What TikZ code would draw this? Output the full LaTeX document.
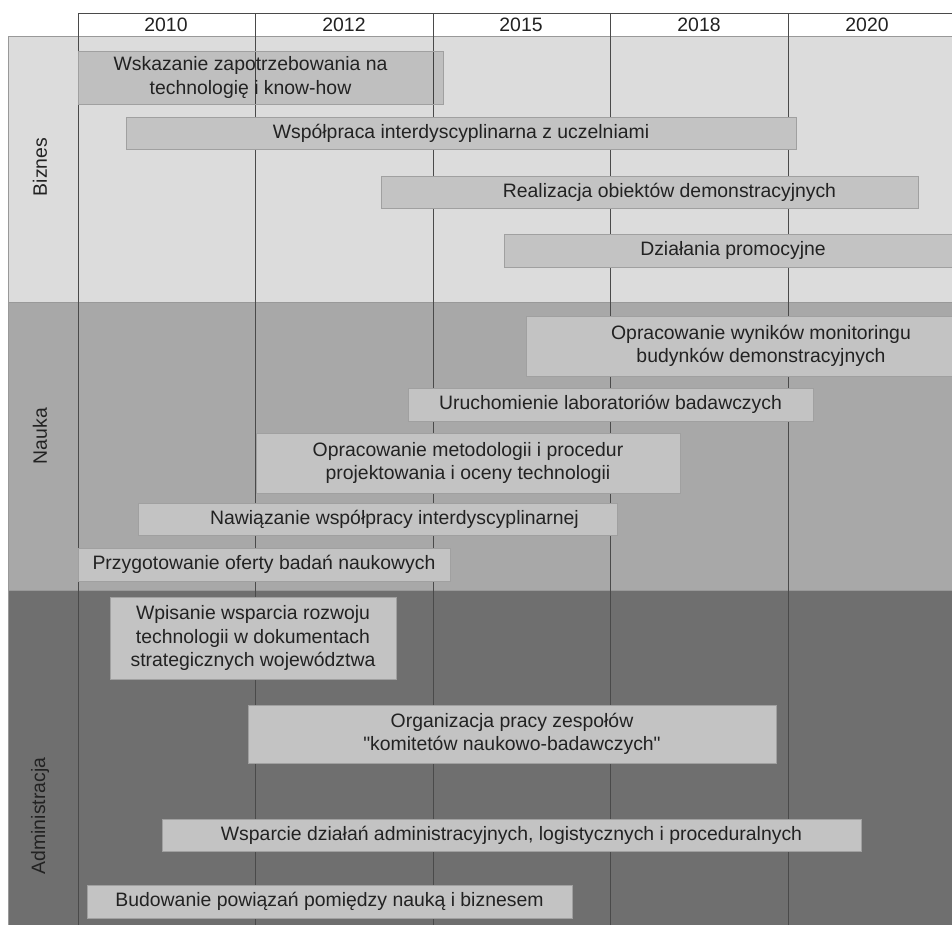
\documentclass[tikz,border=0pt]{standalone}
\usepackage{fontspec}
\setmainfont{Liberation Sans}[Ligatures=TeXOff]
\definecolor{bizband}{HTML}{DCDCDC}
\definecolor{naukaband}{HTML}{A8A8A8}
\definecolor{adminband}{HTML}{6F6F6F}
\definecolor{taskfill}{HTML}{C3C3C3}
\definecolor{taskline}{HTML}{A0A0A0}
\definecolor{gridline}{HTML}{4A4A4A}
\definecolor{inkgray}{HTML}{222222}

\begin{document}
\begin{tikzpicture}[
    x=1pt, y=-1pt,
    every node/.style={font=\fontsize{19.4}{23.5}\selectfont, text=inkgray},
    band/.style={draw=gray!80, line width=0.8pt},
    lane/.style={rotate=90, inner sep=0pt},
    year/.style={inner sep=0pt},
    task/.style={rectangle, draw=taskline, fill=taskfill, line width=0.8pt,
                 inner sep=0pt, align=center},
    gridln/.style={draw=gridline, line width=0.8pt},
    shift text/.style={execute at begin node={\hspace*{#1}}}
]
\useasboundingbox (0,0) rectangle (952,924);
\fill[white] (0,0) rectangle (952,924);

% Bands
\draw[band, fill=bizband] (8,36) rectangle (960,302);
\draw[band, fill=naukaband] (8,302) rectangle (960,590);
\draw[band, fill=adminband] (8,590) rectangle (960,930);

% Time grid
\foreach \x in {78,255,433,610,788}
    \draw[gridln] (\x,13) -- (\x,930);
\draw[gridln] (78,13) -- (960,13);

% Years
\foreach \yr/\x in {2010/166, 2012/344, 2015/521, 2018/699, 2020/867}
    \node[year] (y\yr) at (\x,25) {\yr};

% Lane titles
\node[lane] (biznes) at (40,167) {Biznes};
\node[lane] (nauka) at (40,436) {Nauka};
\node[lane] (admin) at (40,816) {Administracja};

% Biznes
\node[task, fill=black, fill opacity=0.13, text opacity=1,
      minimum width=365, minimum height=53] (b1) at (260.5,77.5)
      {\hspace*{-20pt}Wskazanie zapotrzebowania na\\\hspace*{-20pt}technologię i know-how};
\node[task, minimum width=670, minimum height=32] (b2) at (461,133)
      {Współpraca interdyscyplinarna z uczelniami};
\node[task, shift text=40pt, minimum width=537, minimum height=32] (b3) at (649.5,192)
      {Realizacja obiektów demonstracyjnych};
\node[task, minimum width=458, minimum height=33] (b4) at (733,250.5)
      {Działania promocyjne};

% Nauka
\node[task, minimum width=470, minimum height=60] (n1) at (761,346)
      {Opracowanie wyników monitoringu\\budynków demonstracyjnych};
\node[task, minimum width=405, minimum height=33] (n2) at (610.5,404.5)
      {Uruchomienie laboratoriów badawczych};
\node[task, minimum width=424, minimum height=60] (n3) at (468,463)
      {Opracowanie metodologii i procedur\\projektowania i oceny technologii};
\node[task, shift text=34pt, minimum width=479, minimum height=32] (n4) at (377.5,519)
      {Nawiązanie współpracy interdyscyplinarnej};
\node[task, minimum width=372, minimum height=33] (n5) at (264,564.5)
      {Przygotowanie oferty badań naukowych};

% Administracja
\node[task, minimum width=286, minimum height=82] (a1) at (253,638)
      {Wpisanie wsparcia rozwoju\\technologii w dokumentach\\strategicznych województwa};
\node[task, minimum width=528, minimum height=58] (a2) at (512,734)
      {Organizacja pracy zespołów\\"komitetów naukowo-badawczych"};
\node[task, minimum width=699, minimum height=32] (a3) at (511.5,835)
      {Wsparcie działań administracyjnych, logistycznych i proceduralnych};
\node[task, minimum width=485, minimum height=33] (a4) at (329.5,901.5)
      {Budowanie powiązań pomiędzy nauką i biznesem};

\end{tikzpicture}
\end{document}
